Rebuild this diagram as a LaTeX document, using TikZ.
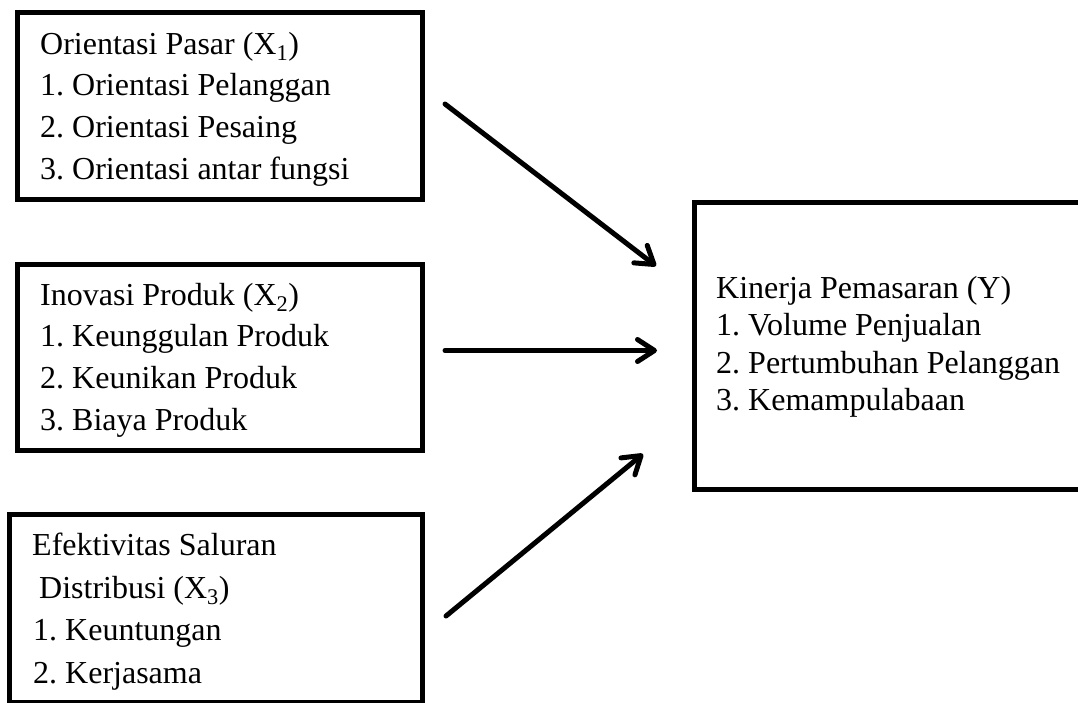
\documentclass[tikz,border=0pt]{standalone}
\usepackage{fontspec}
\setmainfont{Liberation Serif}
\frenchspacing
\usetikzlibrary{arrows.meta}
\tikzset{
  box/.style={draw=black, line width=5pt, inner sep=0pt, fill=white},
  txt/.style={anchor=base west, inner sep=0pt, font=\fontsize{32}{36}\selectfont},
  arr/.style={line width=5pt, line cap=round, -{Straight Barb[length=17pt,width=22pt,round]}}
}
\begin{document}
\begin{tikzpicture}[x=1pt,y=-1pt]
\useasboundingbox (0,0) rectangle (1078,702);
% boxes
\node[box, minimum width=405pt, minimum height=187pt] (b1) at (220,106) {};
\node[box, minimum width=405pt, minimum height=186pt] (b2) at (220,357.5) {};
\node[box, minimum width=413pt, minimum height=188pt] (b3) at (216,608.5) {};
\node[box, minimum width=396pt, minimum height=286.5pt] (b4) at (892.5,345.75) {};
% box 1 text
\node[txt] (t11) at (40,54) {Orientasi Pasar (X\textsubscript{1})};
\node[txt] (t12) at (40,95.5) {1. Orientasi Pelanggan};
\node[txt] (t13) at (40,137) {2. Orientasi Pesaing};
\node[txt] (t14) at (40,179) {3. Orientasi antar fungsi};
% box 2 text
\node[txt] (t21) at (40,305) {Inovasi Produk (X\textsubscript{2})};
\node[txt] (t22) at (40,346.5) {1. Keunggulan Produk};
\node[txt] (t23) at (40,388) {2. Keunikan Produk};
\node[txt] (t24) at (40,430) {3. Biaya Produk};
% box 3 text
\node[txt] (t31) at (32,555) {Efektivitas Saluran};
\node[txt] (t32) at (39,598) {Distribusi (X\textsubscript{3})};
\node[txt] (t33) at (33,640) {1. Keuntungan};
\node[txt] (t34) at (33,683) {2. Kerjasama};
% box 4 text
\node[txt] (t41) at (716,298) {Kinerja Pemasaran (Y)};
\node[txt] (t42) at (716,335.5) {1. Volume Penjualan};
\node[txt] (t43) at (716,373) {2. Pertumbuhan Pelanggan};
\node[txt] (t44) at (716,410.5) {3. Kemampulabaan};
% arrows
\coordinate (s1) at (445,104);
\coordinate (e1) at (656,266);
\coordinate (s2) at (445,350.5);
\coordinate (e2) at (657,350.5);
\coordinate (s3) at (446,616);
\coordinate (e3) at (643,454);
\draw[arr] (s1) -- (e1);
\draw[arr] (s2) -- (e2);
\draw[arr] (s3) -- (e3);
\end{tikzpicture}
\end{document}
